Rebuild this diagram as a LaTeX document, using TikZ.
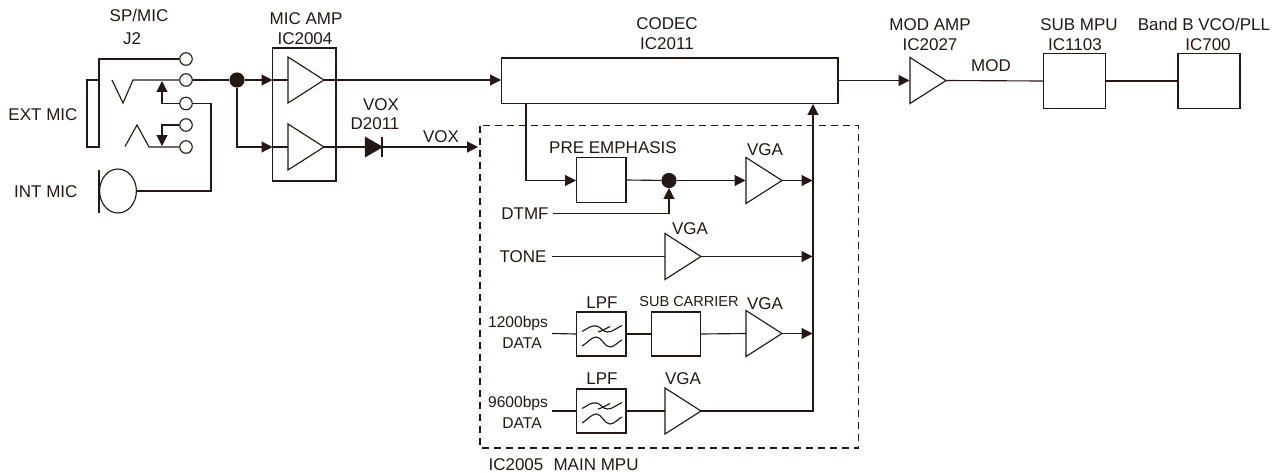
\documentclass[tikz,border=0pt]{standalone}
\usepackage{fontspec}
\setmainfont{Liberation Sans}
\usetikzlibrary{arrows.meta}
\definecolor{ink}{HTML}{231815}
\tikzset{
 x=0.75pt,y=-0.75pt,
 every path/.style={draw=ink,line width=0.85pt},
 lbl/.style={draw=none,text=ink,inner sep=0pt,yshift=-0.4pt,font=\fontsize{12.75}{14}\selectfont,anchor=center},
 lblr/.style={lbl,anchor=east},
 lblsmall/.style={lbl,font=\fontsize{11.7}{14}\selectfont},
 block/.style={draw=ink,line width=0.85pt,fill=white},
 flow/.style={-{Triangle[length=8.2pt,width=8.2pt]}},
 jack/.style={circle,draw=ink,line width=0.85pt,fill=white,minimum size=9.4pt,inner sep=0pt},
 dot/.style={circle,fill=ink,draw=ink,inner sep=0pt,minimum size=10.5pt},
}
\newcommand{\boxnode}[5]{\path[block] (#2,#3) rectangle (#4,#5); \coordinate (#1w) at (#2,{(#3+#5)/2}); \coordinate (#1e) at (#4,{(#3+#5)/2});}
\newcommand{\amp}[3]{\path[block,line join=miter] (#2,#3-23) -- (#2,#3+23) -- (#2+36,#3) -- cycle; \coordinate (#1w) at (#2,#3); \coordinate (#1e) at (#2+36,#3);}
\newcommand{\lpfsym}[2]{\begin{scope}[shift={(#1,#2)}]
 \draw (-19.5,-2.5) .. controls (-13,-6) and (-10,-9) .. (-5,-8) .. controls (0,-7) and (1,-2) .. (6,-2) .. controls (11,-2) and (15,-6) .. (20.5,-8.5);
 \draw (-3.5,-2) .. controls (1,-3) and (5,-6) .. (8.5,-7.5);
 \draw (-19.5,12) .. controls (-13,8) and (-10,3) .. (-5,3) .. controls (0,3) and (3,13) .. (8.5,13) .. controls (13,13) and (16,8) .. (20.5,6);
\end{scope}}
\begin{document}
\begin{tikzpicture}
\useasboundingbox[draw=none] (0,0) rectangle (1274,472);
% jack
\node[jack] (c1) at (186,59) {};
\node[jack] (c2) at (186,80) {};
\node[jack] (c3) at (186,103.5) {};
\node[jack] (c4) at (186,125) {};
\node[jack] (c5) at (186,147) {};
\draw (c1.west) -- (99,59) -- (99,147) -- (87,147) -- (87,80) -- (99,80);
\draw (112,80) -- (123,103) -- (133,80) -- (c2.west);
\draw (125,146.5) -- (137,125) -- (149,147) -- (c5.west);
\draw[flow] (c3.west) -- (162,103.5) -- (162,81);
\draw[flow] (c4.west) -- (162,125) -- (162,146);
% mic
\draw (99,170) -- (99,212.5);
\node[draw=ink,line width=0.85pt,circle,inner sep=0pt,minimum size=30pt,xscale=0.92,yscale=1.1] (mic) at (118,191) {};
\draw (c3.east) -- (211,103.5) -- (211,191) -- (mic.east);
% amps
\path[block] (272.5,48) rectangle (336,181);
\amp{a}{288}{80}
\amp{b}{288}{147}
\node[dot] (j1) at (237,80) {};
\draw (c2.east) -- (j1);
\draw[flow] (j1) -- (272.5,80);
\draw (272,80) -- (aw);
\draw[flow] (j1) -- (237,147) -- (272.5,147);
\draw (272,147) -- (bw);
% codec
\path[block] (501.5,58) rectangle (838,103.5);
\coordinate (codw) at (501,80);
\draw[flow] (ae) -- (codw);
% diode
\coordinate (d1) at (366,147);
\coordinate (d2) at (382,147);
\draw (be) -- (d1);
\path[fill=ink] (365.5,137.5) -- (365.5,156.5) -- (382,147) -- cycle;
\draw (382,137) -- (382,157);
\draw[flow] (d2) -- (478,147);
% dashed
\path[draw=ink,dash pattern=on 5.5pt off 3.5pt,line width=0.85pt] (480,125.5) rectangle (858.5,448);
% pre emphasis
\boxnode{pre}{576.5}{157.5}{626}{202.5}
\draw[flow] (526,103.5) -- (526,180.5) -- (576,180.5);
\node[dot] (j2) at (669,180.5) {};
\amp{v1}{746}{180.5}
\draw (pree) -- (j2);
\draw[flow] (j2) -- (745.5,180.5);
\draw[flow] (v1e) -- (812.5,180.5);
\draw[flow] (553,213.5) -- (669,213.5) -- (669,188);
% tone
\amp{v2}{665}{256.5}
\draw (552,256.5) -- (v2w);
\draw[flow] (v2e) -- (812.5,256.5);
% 1200
\boxnode{l1}{576.5}{312}{626}{356}
\boxnode{sc}{651.5}{312}{700.5}{356}
\amp{v3}{746}{333.5}
\draw (552,333.5) -- (l1w);
\draw (l1e) -- (scw);
\draw (sce) -- (v3w);
\draw[flow] (v3e) -- (812.5,333.5);
\lpfsym{601.5}{334}
% 9600
\boxnode{l2}{576.5}{389}{626}{433}
\amp{v4}{665}{411}
\draw (552,411) -- (l2w);
\draw (l2e) -- (v4w);
\lpfsym{601.5}{411}
\draw[flow] (v4e) -- (813,411) -- (813,104);
% right
\amp{m}{910}{80.5}
\draw[flow] (838,80.5) -- (909.5,80.5);
\boxnode{sub}{1043.5}{53.5}{1105.5}{108.5}
\boxnode{pll}{1178}{53.5}{1240}{108.5}
\draw (me) -- (subw);
\draw (sube) -- (pllw);
% labels
\node[lbl] (t1) at (139,15) {SP/MIC};
\node[lbl] (t2) at (132,38) {J2};
\node[lbl] (t3) at (306,18) {MIC AMP};
\node[lbl] (t4) at (305,38.5) {IC2004};
\node[lblr] (t5) at (78,114) {EXT MIC};
\node[lblr] (t6) at (78,191) {INT MIC};
\node[lbl] (t7) at (381,104) {VOX};
\node[lbl] (t8) at (375,123) {D2011};
\node[lbl] (t9) at (441,136) {VOX};
\node[lbl] (t10) at (667,23) {CODEC};
\node[lbl] (t11) at (667,43) {IC2011};
\node[lbl] (t12) at (930,24) {MOD AMP};
\node[lbl] (t13) at (930,44.5) {IC2027};
\node[lbl] (t14) at (991,65) {MOD};
\node[lbl] (t15) at (1079,24) {SUB MPU};
\node[lbl] (t16) at (1075,44) {IC1103};
\node[lbl] (t17) at (1204,24) {Band B VCO/PLL};
\node[lbl] (t18) at (1208,44) {IC700};
\node[lbl] (t19) at (613,147) {PRE EMPHASIS};
\node[lbl] (t20) at (765,149) {VGA};
\node[lbl] (t21) at (525,213.5) {DTMF};
\node[lbl] (t22) at (690,228) {VGA};
\node[lbl] (t23) at (523,256) {TONE};
\node[lblsmall] (t24) at (518,323) {1200bps};
\node[lblsmall] (t25) at (522,343) {DATA};
\node[lbl] (t26) at (602,302) {LPF};
\node[lbl,font=\fontsize{10.9}{13}\selectfont] (t27) at (689,301) {SUB CARRIER};
\node[lbl] (t28) at (765,303) {VGA};
\node[lblsmall] (t29) at (518,403) {9600bps};
\node[lblsmall] (t30) at (522,423) {DATA};
\node[lbl] (t31) at (602,378) {LPF};
\node[lbl] (t32) at (683,378) {VGA};
\node[lbl,anchor=west] (t33) at (488,464) {IC2005\hspace{0.6em}MAIN MPU};
\end{tikzpicture}
\end{document}
